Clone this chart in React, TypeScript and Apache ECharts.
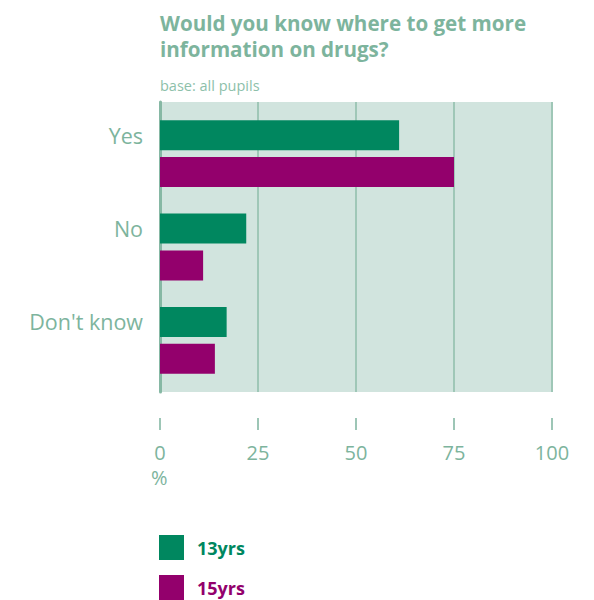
import React, { useEffect, useRef } from "react";
import * as echarts from "echarts";

const categories = ["Yes", "No", "Don't know"];
const series13 = [61, 22, 17];
const series15 = [75, 11, 14];
const seriesNames = ["13yrs", "15yrs"];
const xTicks = [0, 25, 50, 75, 100];

const GREEN = "#00875f";
const PURPLE = "#93006c";
const TEXT = "#7db49d";
const FONT = "'Open Sans', 'Noto Sans', sans-serif";

export default function App() {
  const ref = useRef<HTMLDivElement>(null);
  useEffect(() => {
    const chart = echarts.init(ref.current!, null, { renderer: "svg" });
    const legendBase = {
      orient: "vertical",
      left: 159,
      padding: 0,
      itemWidth: 25,
      itemHeight: 25,
      icon: "rect",
      textStyle: { fontSize: 18, fontWeight: "bold", fontFamily: FONT, padding: [0, 0, 0, 8] },
    };
    chart.setOption({
      animation: false,
      textStyle: { fontFamily: FONT },
      title: [
        {
          text: "Would you know where to get more\ninformation on drugs?",
          left: 155,
          top: 5,
          textStyle: { color: TEXT, fontSize: 20.6, fontWeight: "bold", lineHeight: 26, fontFamily: FONT },
        },
        {
          text: "base: all pupils",
          left: 155,
          top: 71,
          textStyle: { color: "#8dbfaa", fontSize: 14.5, fontWeight: "normal", lineHeight: 18, fontFamily: FONT },
        },
      ],
      legend: [
        {
          ...legendBase,
          top: 535,
          data: [{ name: seriesNames[0], textStyle: { color: GREEN } }],
        },
        {
          ...legendBase,
          top: 575,
          data: [{ name: seriesNames[1], textStyle: { color: PURPLE } }],
        },
      ],
      grid: [
        {
          left: 160,
          right: 42,
          top: 102,
          bottom: 208,
          show: true,
          backgroundColor: "#d1e4de",
          borderWidth: 0,
        },
        {
          left: 160,
          right: 42,
          top: 107,
          bottom: 213,
          show: false,
        },
      ],
      xAxis: [
        {
          type: "value",
          gridIndex: 0,
          min: 0,
          max: 100,
          interval: 25,
          offset: 26,
          axisLine: { show: false },
          axisTick: { show: true, length: 12, lineStyle: { color: "#9dc6b6", width: 2 } },
          axisLabel: {
            color: TEXT,
            fontSize: 20,
            margin: 24,
            fontFamily: FONT,
            formatter: (v: number) => (xTicks.includes(v) ? String(v) : ""),
          },
          splitLine: { show: true, lineStyle: { color: "#9fc7b7", width: 2 } },
        },
        {
          type: "value",
          gridIndex: 1,
          min: 0,
          max: 100,
          interval: 25,
          show: false,
          splitLine: { show: false },
        },
      ],
      yAxis: [
        {
          type: "category",
          gridIndex: 0,
          data: [""],
          axisLine: { show: true, lineStyle: { color: "#86b8a4", width: 3 } },
          axisTick: { show: false },
          axisLabel: { show: false },
        },
        {
          type: "category",
          gridIndex: 1,
          data: categories,
          inverse: true,
          axisLine: { show: false },
          axisTick: { show: false },
          axisLabel: {
            color: TEXT,
            fontSize: 21.5,
            lineHeight: 37,
            margin: 17,
            fontFamily: FONT,
            formatter: (v: string) => v + "\n ",
          },
        },
      ],
      graphic: [
        {
          type: "text",
          left: 151,
          top: 467,
          style: { text: "%", fill: TEXT, fontSize: 20, fontFamily: FONT },
        },
      ],
      series: [
        {
          name: seriesNames[0],
          type: "bar",
          xAxisIndex: 1,
          yAxisIndex: 1,
          data: series13,
          barWidth: 30,
          barGap: "23%",
          itemStyle: { color: GREEN },
        },
        {
          name: seriesNames[1],
          type: "bar",
          xAxisIndex: 1,
          yAxisIndex: 1,
          data: series15,
          barWidth: 30,
          barGap: "23%",
          itemStyle: { color: PURPLE },
        },
      ],
    });
    return () => chart.dispose();
  }, []);
  return (
    <div
      ref={ref}
      style={{ position: "fixed", left: 0, top: 0, width: 594, height: 600, background: "#fff" }}
    />
  );
}
